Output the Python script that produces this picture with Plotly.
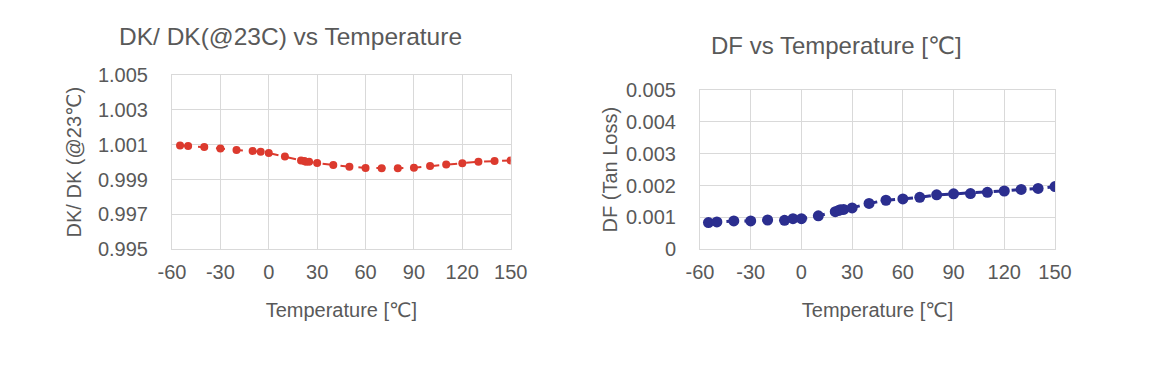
import plotly.graph_objects as go

temps = [-55, -50, -40, -30, -20, -10, -5, 0, 10, 20, 22, 23, 25, 30, 40, 50, 60, 70, 80, 90, 100, 110, 120, 130, 140, 150]
dk_ratio = [1.00096, 1.00093, 1.00087, 1.00078, 1.00070, 1.00064, 1.00060, 1.00052, 1.00033, 1.00010, 1.00006,
            1.00003, 1.00002, 0.99995, 0.99984, 0.99974, 0.99967, 0.99965, 0.99965, 0.99968, 0.99978, 0.99986,
            0.99994, 1.00002, 1.00007, 1.00010]
df_vals = [0.00084, 0.00086, 0.00089, 0.00089, 0.00092, 0.00091, 0.00096, 0.00096, 0.00105, 0.00118, 0.00122,
           0.00124, 0.00125, 0.00130, 0.00144, 0.00154, 0.00158, 0.00163, 0.00171, 0.00174, 0.00175, 0.00179,
           0.00183, 0.00188, 0.00191, 0.00197]

x_ticks = [-60, -30, 0, 30, 60, 90, 120, 150]
x_tick_text = ["-60", "-30", "0", "30", "60", "90", "120", "150"]
dk_ticks = [0.995, 0.997, 0.999, 1.001, 1.003, 1.005]
dk_tick_text = ["0.995", "0.997", "0.999", "1.001", "1.003", "1.005"]
df_ticks = [0, 0.001, 0.002, 0.003, 0.004, 0.005]
df_tick_text = ["0", "0.001", "0.002", "0.003", "0.004", "0.005"]

RED = "#dc3a2e"
BLUE = "#2b2e8f"
TXT = "#595959"
GRID = "#d9d9d9"
FONT = "Liberation Sans, Arial, DejaVu Sans, sans-serif"
CLEAR = "rgba(0,0,0,0)"

W, H = 1159, 366

fig = go.Figure()
fig.add_trace(go.Scatter(x=temps, y=dk_ratio, mode="lines+markers", xaxis="x", yaxis="y",
                         line=dict(color=RED, width=2, dash="dash"),
                         marker=dict(color=RED, size=8), showlegend=False))
fig.add_trace(go.Scatter(x=temps, y=df_vals, mode="lines+markers", xaxis="x2", yaxis="y2",
                         line=dict(color=BLUE, width=3, dash="dash"),
                         marker=dict(color=BLUE, size=11), showlegend=False))

ax_common = dict(showgrid=True, gridcolor=GRID, gridwidth=1, zeroline=False, showline=True,
                 linecolor=GRID, mirror=True, automargin=False, ticks="outside", tickcolor=CLEAR,
                 tickfont=dict(size=20, color=TXT, family=FONT))
x_common = dict(ax_common, ticklen=5)
y_common = dict(ax_common, ticklen=19)

fig.update_layout(
    width=W, height=H,
    margin=dict(l=0, r=0, t=0, b=0),
    paper_bgcolor="white", plot_bgcolor="white",
    font=dict(family=FONT, color=TXT),
    xaxis=dict(domain=[164 / W, 502.7 / W], range=[-60, 150], tickvals=x_ticks, ticktext=x_tick_text, anchor="y",
               title=dict(text="Temperature [℃]", font=dict(size=20, color=TXT), standoff=20),
               **x_common),
    yaxis=dict(domain=[1 - 241.3 / H, 1 - 67 / H], range=[0.995, 1.005], tickvals=dk_ticks, ticktext=dk_tick_text,
               anchor="x", title=dict(text="DK/ DK (@23℃)", font=dict(size=20, color=TXT), standoff=10),
               **y_common),
    xaxis2=dict(domain=[692 / W, 1047 / W], range=[-60, 150], tickvals=x_ticks, ticktext=x_tick_text, anchor="y2",
                title=dict(text="Temperature [℃]", font=dict(size=20, color=TXT), standoff=20),
                **x_common),
    yaxis2=dict(domain=[1 - 241.3 / H, 1 - 82 / H], range=[0, 0.005], tickvals=df_ticks, ticktext=df_tick_text,
                anchor="x2", title=dict(text="DF (Tan Loss)", font=dict(size=20, color=TXT), standoff=2),
                **y_common),
    annotations=[
        dict(text="DK/ DK(@23C) vs Temperature", x=282 / W, y=1 - 29 / H, xref="paper", yref="paper",
             showarrow=False, xanchor="center", yanchor="middle", font=dict(size=24.5, color=TXT, family=FONT)),
        dict(text="DF vs Temperature [℃]", x=828 / W, y=1 - 37 / H, xref="paper", yref="paper",
             showarrow=False, xanchor="center", yanchor="middle", font=dict(size=24, color=TXT, family=FONT)),
    ],
)

fig.write_html("out.html")
